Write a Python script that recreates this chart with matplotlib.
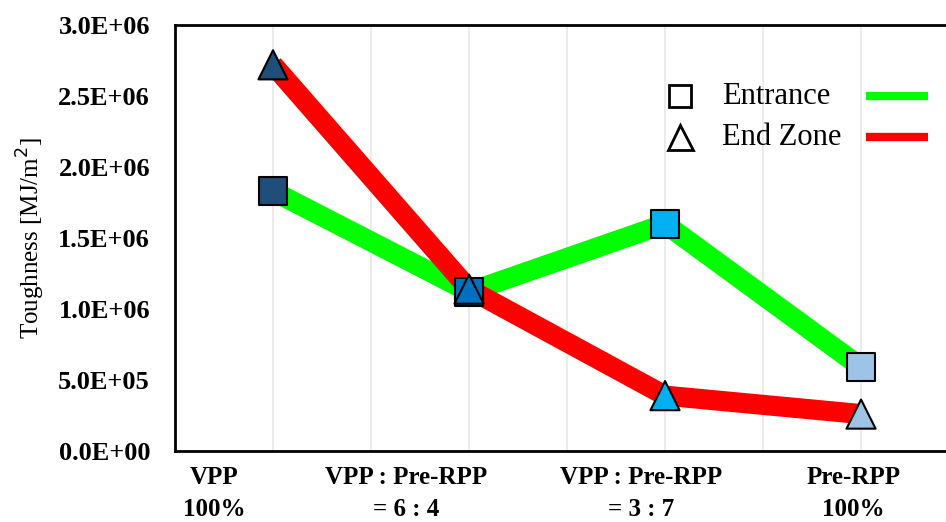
import matplotlib
matplotlib.use("Agg")
import matplotlib.pyplot as plt
from matplotlib.ticker import FuncFormatter

plt.rcParams['font.family'] = ['Liberation Serif', 'DejaVu Serif']

# data
positions = [0.5, 1.5, 2.5, 3.5]
entrance = [1.83e6, 1.12e6, 1.60e6, 0.59e6]
end_zone = [2.72e6, 1.14e6, 0.39e6, 0.26e6]
marker_colors = ['#1F4E79', '#0070C0', '#00B0F0', '#9DC3E6']
cat_labels = ['VPP\n100%', 'VPP : Pre-RPP\n= 6 : 4', 'VPP : Pre-RPP\n= 3 : 7', 'Pre-RPP\n100%']
label_x = [0.2, 1.18, 2.38, 3.46]

fig = plt.figure(figsize=(9.46, 5.22), dpi=100)
ax = fig.add_axes([0.185, 0.136, 0.8288, 0.816])

for gx in [0.5, 1.0, 1.5, 2.0, 2.5, 3.0, 3.5]:
    ax.axvline(gx, color='#EBEBEB', lw=1.5, zorder=0)

ax.plot(positions, entrance, color='#00FF00', lw=14.5, solid_capstyle='butt', zorder=2)
ax.plot(positions, end_zone, color='#FF0000', lw=14.5, solid_capstyle='butt', zorder=3)
ax.scatter(positions, entrance, marker='s', s=400, c=marker_colors,
           edgecolors='black', linewidths=1.5, zorder=4)
ax.scatter(positions, end_zone, marker='^', s=440, c=marker_colors,
           edgecolors='black', linewidths=1.5, zorder=5)

ax.set_xlim(0, 4)
ax.set_ylim(0, 3.0e6)
ax.set_yticks([i * 5e5 for i in range(7)])
ax.yaxis.set_major_formatter(FuncFormatter(lambda v, p: '%.1E' % v))
ax.tick_params(axis='y', length=0, pad=18, labelsize=19)
for t in ax.get_yticklabels():
    t.set_fontweight('bold')

ax.set_xticks(label_x)
ax.set_xticklabels(cat_labels, fontsize=18, fontweight='bold', linespacing=1.5)
ax.tick_params(axis='x', length=0, pad=11)

ax.set_ylabel('Toughness [MJ/m$^2$]', fontsize=18, labelpad=8)

for s in ['left', 'bottom', 'top']:
    ax.spines[s].set_linewidth(2)
ax.spines['right'].set_visible(False)

# legend drawn by hand
tr = ax.transAxes
ax.plot([0.644], [0.833], marker='s', ms=16, mfc='white', mec='black', mew=2,
        transform=tr, clip_on=False, zorder=6)
ax.plot([0.644], [0.737], marker='^', ms=18, mfc='white', mec='black', mew=2,
        transform=tr, clip_on=False, zorder=6)
ax.text(0.698, 0.833, 'Entrance', transform=tr, fontsize=22, va='center')
ax.text(0.698, 0.737, 'End Zone', transform=tr, fontsize=22, va='center')
ax.plot([0.881, 0.960], [0.833, 0.833], color='#00FF00', lw=6, transform=tr, solid_capstyle='butt')
ax.plot([0.881, 0.960], [0.737, 0.737], color='#FF0000', lw=6, transform=tr, solid_capstyle='butt')

fig.savefig('out.png', dpi=100)
